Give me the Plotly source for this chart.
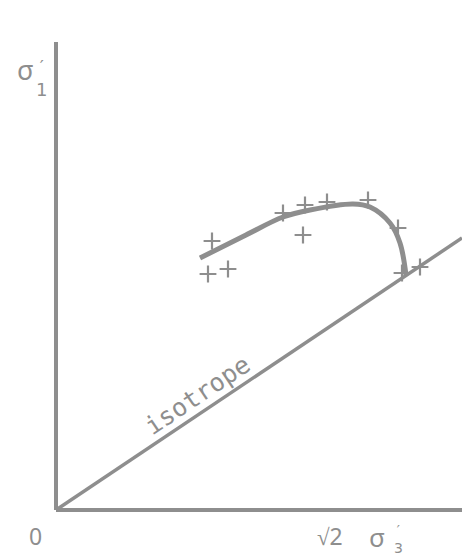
import plotly.graph_objects as go

# Stress path in the Rendulic plane: sqrt(2)*sigma3' (x) vs sigma1' (y)
test_x = [156, 152, 172, 227, 249, 247, 271, 312, 342, 346, 364]
test_y = [269, 236, 241, 297, 305, 275, 308, 310, 282, 237, 243]

path_x = [144, 190, 227, 254, 297, 314, 334, 344, 350]
path_y = [252, 275, 293, 300, 306, 303, 287, 267, 235]

iso_slope = 0.67          # isotropic line sigma1' = slope * sqrt(2) sigma3'
x_max = 406
y_max = 468

grey = "#8e8e8e"
font = "Noto Sans"

fig = go.Figure()

# axes
fig.add_trace(go.Scatter(x=[0, 0], y=[y_max, 0], mode="lines",
                         line=dict(color=grey, width=4), hoverinfo="skip"))
fig.add_trace(go.Scatter(x=[0, x_max], y=[0, 0], mode="lines",
                         line=dict(color=grey, width=4), hoverinfo="skip"))
# isotropic line
fig.add_trace(go.Scatter(x=[0, x_max], y=[0, iso_slope * x_max], mode="lines",
                         line=dict(color=grey, width=3.5), hoverinfo="skip"))
# fitted stress path
fig.add_trace(go.Scatter(x=path_x, y=path_y, mode="lines",
                         line=dict(color=grey, width=5, shape="spline", smoothing=1.0),
                         hoverinfo="skip"))
# test points
fig.add_trace(go.Scatter(x=test_x, y=test_y, mode="markers",
                         marker=dict(symbol="cross-thin", size=12,
                                     line=dict(color=grey, width=2.2)),
                         hoverinfo="skip"))

# labels; prime and index are stacked to the right of sigma
ann = [
    dict(x=-31, y=441, text="σ", size=27, fam=font),
    dict(x=-15, y=432, text="′<br>1", size=18, fam="DejaVu Sans"),
    dict(x=-21, y=-26, text="0", size=23, fam=font),
    dict(x=274, y=-26, text="√2", size=23, fam=font),
    dict(x=321, y=-27, text="σ", size=26, fam=font),
    dict(x=342, y=-29, text="′<br>3", size=14, fam="DejaVu Sans"),
]

annotations = [dict(x=a["x"], y=a["y"], xref="x", yref="y", text=a["text"],
                    showarrow=False, font=dict(family=a["fam"], size=a["size"], color=grey))
               for a in ann]
annotations.append(dict(x=141, y=115, xref="x", yref="y", text="isotrope",
                        showarrow=False, textangle=-33.8,
                        font=dict(family="DejaVu Sans Mono", size=25, color=grey)))

fig.update_layout(
    width=462, height=556,
    margin=dict(l=0, r=0, t=0, b=0),
    paper_bgcolor="white", plot_bgcolor="white",
    showlegend=False,
    xaxis=dict(range=[-56, 406], visible=False, fixedrange=True),
    yaxis=dict(range=[-46, 510], visible=False, fixedrange=True),
    annotations=annotations,
)

fig.write_html("out.html")
